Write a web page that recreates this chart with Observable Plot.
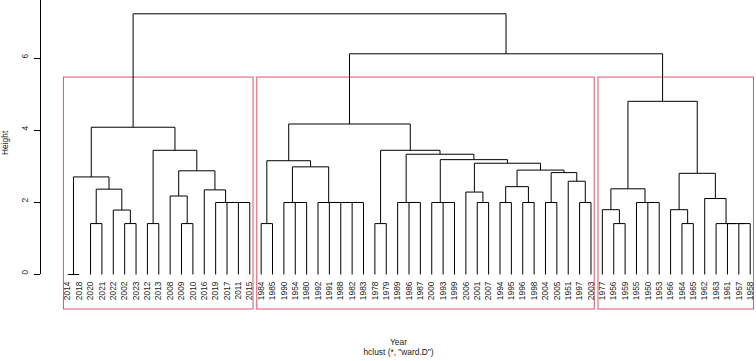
<!DOCTYPE html>
<html>
<head>
<meta charset="utf-8">
<script src="https://cdn.jsdelivr.net/npm/d3@7"></script>
<script src="https://cdn.jsdelivr.net/npm/@observablehq/plot@0.6"></script>
<style>
  body { margin: 0; background: #fff; }
  #chart svg { display: block; }
</style>
</head>
<body>
<div id="chart"></div>
<script>
// Leaf order of the dendrogram (left to right)
const leaves = [
  "2014","2018","2020","2021","2022","2002","2023","2012","2013","2008","2009","2010",
  "2016","2019","2017","2011","2015",
  "1984","1985","1990","1954","1980","1992","1991","1988","1982","1983","1978","1979",
  "1989","1986","1987","2000","1993","1999","2006","2001","2007","1994","1995","1996",
  "1998","2004","2005","1951","1997","2003",
  "1977","1956","1959","1955","1950","1953","1966","1964","1965","1962","1963","1961",
  "1957","1958"
];

// Merge steps: [left, right, height]; a string is a leaf, a number is an earlier row
const merges = [
  ["2014", "2018", 0.00],   // 0
  ["2020", "2021", 1.414],  // 1
  ["2002", "2023", 1.414],  // 2
  ["2022", 2, 1.79],        // 3
  [1, 3, 2.37],             // 4
  [0, 4, 2.71],             // 5
  ["2012", "2013", 1.414],  // 6
  ["2009", "2010", 1.414],  // 7
  ["2008", 7, 2.18],        // 8
  ["2011", "2015", 2.00],   // 9
  ["2017", 9, 2.00],        // 10
  ["2019", 10, 2.00],       // 11
  ["2016", 11, 2.35],       // 12
  [8, 12, 2.88],            // 13
  [6, 13, 3.45],            // 14
  [5, 14, 4.09],            // 15
  ["1984", "1985", 1.414],  // 16
  ["1954", "1980", 2.00],   // 17
  ["1990", 17, 2.00],       // 18
  ["1982", "1983", 2.00],   // 19
  ["1988", 19, 2.00],       // 20
  ["1991", 20, 2.00],       // 21
  ["1992", 21, 2.00],       // 22
  [18, 22, 2.99],           // 23
  [16, 23, 3.16],           // 24
  ["1978", "1979", 1.414],  // 25
  ["1986", "1987", 2.00],   // 26
  ["1989", 26, 2.00],       // 27
  ["1993", "1999", 2.00],   // 28
  ["2000", 28, 2.00],       // 29
  ["2001", "2007", 2.00],   // 30
  ["2006", 30, 2.29],       // 31
  ["1994", "1995", 2.00],   // 32
  ["1996", "1998", 2.00],   // 33
  [32, 33, 2.44],           // 34
  ["2004", "2005", 2.00],   // 35
  ["1997", "2003", 2.00],   // 36
  ["1951", 36, 2.59],       // 37
  [35, 37, 2.83],           // 38
  [34, 38, 2.90],           // 39
  [31, 39, 3.09],           // 40
  [29, 40, 3.19],           // 41
  [27, 41, 3.34],           // 42
  [25, 42, 3.45],           // 43
  [24, 43, 4.18],           // 44
  ["1956", "1959", 1.414],  // 45
  ["1977", 45, 1.80],       // 46
  ["1950", "1953", 2.00],   // 47
  ["1955", 47, 2.00],       // 48
  [46, 48, 2.38],           // 49
  ["1964", "1965", 1.414],  // 50
  ["1966", 50, 1.80],       // 51
  ["1957", "1958", 1.414],  // 52
  ["1961", 52, 1.414],      // 53
  ["1963", 53, 1.414],      // 54
  ["1962", 54, 2.11],       // 55
  [51, 55, 2.81],           // 56
  [49, 56, 4.81],           // 57
  [44, 57, 6.13],           // 58
  [15, 58, 7.24]            // 59
];

const yTicks = [0, 2, 4, 6];
const yLabel = "Height";
const xLabel = "Year";
const subLabel = 'hclust (*, "ward.D")';
const nClusters = 3;

// Leaves sit at 1..n; node x is the midpoint of its two children
const leafPos = new Map(leaves.map((d, i) => [d, i + 1]));
const nodes = [];
const segments = [];
const ref = r => typeof r === "string" ? {x: leafPos.get(r), h: 0, members: [r]} : nodes[r];
merges.forEach(([a, b, h]) => {
  const A = ref(a), B = ref(b);
  segments.push({x1: A.x, y1: A.h, x2: A.x, y2: h});
  segments.push({x1: B.x, y1: B.h, x2: B.x, y2: h});
  segments.push({x1: A.x, y1: h, x2: B.x, y2: h});
  nodes.push({x: (A.x + B.x) / 2, h, members: A.members.concat(B.members)});
});

// Cut the tree into k groups, as rect.hclust does
const byHeight = d3.range(merges.length).sort((i, j) => merges[j][2] - merges[i][2]);
const cutRows = new Set(byHeight.slice(0, nClusters - 1));
const clusters = [];
(function collect(r) {
  if (typeof r === "number" && cutRows.has(r)) { collect(merges[r][0]); collect(merges[r][1]); }
  else clusters.push(ref(r));
})(merges.length - 1);
const rectTop = (merges[byHeight[nClusters - 2]][2] + merges[byHeight[nClusters - 1]][2]) / 2;

const n = leaves.length;
const xDomain = [1 - 0.04 * (n - 1), n + 0.04 * (n - 1)];
const yDomain = [-0.972, 7.61];
const fs = 8.4;

const chart = Plot.plot({
  width: 756,
  height: 361,
  marginLeft: 40,
  marginRight: 0,
  marginTop: 0,
  marginBottom: 52,
  x: {domain: xDomain, range: [40, 777], axis: null},
  y: {domain: yDomain, range: [309, 0], axis: null},
  style: {fontFamily: "'Liberation Sans', Arial, sans-serif", background: "#fff", color: "#000"},
  marks: [
    // cluster boxes
    Plot.rect(clusters, {
      x1: d => d3.min(d.members, m => leafPos.get(m)) - 0.34,
      x2: d => d3.max(d.members, m => leafPos.get(m)) + 0.33,
      y1: yDomain[0],
      y2: rectTop,
      fill: "none",
      stroke: "#DF536B",
      strokeWidth: 1
    }),
    // dendrogram branches
    Plot.link(segments, {x1: "x1", y1: "y1", x2: "x2", y2: "y2", stroke: "#000", strokeWidth: 1}),
    // y axis
    Plot.ruleX([xDomain[0]], {y1: 0, y2: yDomain[1], stroke: "#000"}),
    Plot.axisY({ticks: yTicks, tickSize: 6, tickFormat: () => "", fill: "none", stroke: "#000", label: null}),
    Plot.text(yTicks, {y: d => d, frameAnchor: "left", dx: -15, rotate: -90, text: d => String(d), fontSize: fs, fill: "#222"}),
    Plot.text([yLabel], {frameAnchor: "left", dx: -35, rotate: -90, fontSize: fs, fill: "#222"}),
    // leaf labels
    Plot.text(leaves, {x: d => leafPos.get(d), y: 0, text: d => d, rotate: -90, textAnchor: "end", dy: 7, fontSize: fs, fill: "#222"}),
    // x label and method caption
    Plot.text([xLabel], {frameAnchor: "bottom", dy: 35, fontSize: fs, fill: "#222"}),
    Plot.text([subLabel], {frameAnchor: "bottom", dy: 45, fontSize: fs, fill: "#222"})
  ]
});

document.getElementById("chart").appendChild(chart);
</script>
</body>
</html>
